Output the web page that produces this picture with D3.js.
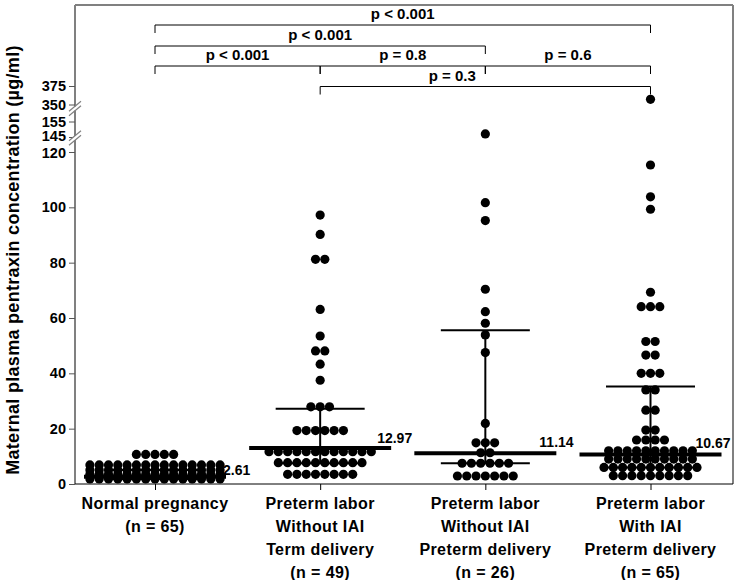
<!DOCTYPE html>
<html><head><meta charset="utf-8">
<script src="https://cdn.jsdelivr.net/npm/d3@7"></script>
<style>
body{margin:0;background:#fff;}
svg{display:block;}
text{font-family:"Liberation Sans",Arial,sans-serif;fill:#000;}
</style>
</head><body>
<svg id="chart" width="738" height="580"></svg>
<script>
// ---------------- DATA ----------------
const groups = ["Normal pregnancy", "PL no IAI term", "PL no IAI preterm", "PL IAI preterm"];
const groupLabelLines = [
  ["Normal pregnancy", "(n = 65)"],
  ["Preterm labor", "Without IAI", "Term delivery", "(n = 49)"],
  ["Preterm labor", "Without IAI", "Preterm delivery", "(n = 26)"],
  ["Preterm labor", "With IAI", "Preterm delivery", "(n = 65)"]
];
const normalValues = [
  10.7, 10.7, 10.7, 10.7, 10.7,
  6.9, 6.9, 6.9, 6.9, 6.9, 6.9, 6.9, 6.9, 6.9, 6.9, 6.9, 6.9, 6.9, 6.9, 6.9,
  5.1, 5.1, 5.1, 5.1, 5.1, 5.1, 5.1, 5.1, 5.1, 5.1, 5.1, 5.1, 5.1, 5.1, 5.1,
  3.5, 3.5, 3.5, 3.5, 3.5, 3.5, 3.5, 3.5, 3.5, 3.5, 3.5, 3.5, 3.5, 3.5, 3.5,
  1.8, 1.8, 1.8, 1.8, 1.8, 1.8, 1.8, 1.8, 1.8, 1.8, 1.8, 1.8, 1.8, 1.8, 1.8
];
const termValues = [
  97.2, 90.2, 81.2, 81.2, 63.1, 53.5, 48.1, 48.1, 43.3, 37.5,
  27.9, 27.9, 27.9,
  19.3, 19.3, 19.3, 19.3, 19.3, 19.3,
  11.7, 11.7, 11.7, 11.7, 11.7, 11.7, 11.7, 11.7, 11.7, 11.7, 11.7, 11.7,
  7.7, 7.7, 7.7, 7.7, 7.7, 7.7, 7.7, 7.7, 7.7, 7.7,
  3.5, 3.5, 3.5, 3.5, 3.5, 3.5, 3.5, 3.5
];
const pretermNoIaiValues = [
  147, 101.7, 95.2, 70.4, 62.3, 58.1, 53.9, 47.5, 21.9,
  14.9, 14.9, 14.9,
  11.3, 11.3,
  7.5, 7.5, 7.5, 7.5, 7.5, 7.5,
  2.9, 2.9, 2.9, 2.9, 2.9, 2.9, 2.9
];
const iaiValues = [
  357, 115.3, 103.8, 99.3, 69.3,
  64.1, 64.1, 64.1,
  51.5, 51.5, 46.6, 46.6,
  40, 40, 40, 34, 34, 26.7, 26.7, 19.5, 19.5,
  15.9, 15.9, 15.9, 15.9,
  12, 12, 12, 12, 12, 12, 12, 12, 12, 12,
  9, 9, 9, 9, 9, 9, 9, 9, 9, 9,
  6, 6, 6, 6, 6, 6, 6, 6, 6, 6, 6,
  3, 3, 3, 3, 3, 3, 3, 3, 3
];
const groupValues = [normalValues, termValues, pretermNoIaiValues, iaiValues];
const medians = [2.61, 12.97, 11.14, 10.67];
const medianLabels = ["2.61", "12.97", "11.14", "10.67"];
const whiskerLow = [1.8, 7.5, 7.5, 6];
const whiskerHigh = [5.1, 27.2, 55.6, 35.2];
const yTickValues = [0, 20, 40, 60, 80, 100, 120, 145, 155, 350, 375];
const yDomainKnots = [0, 120, 145, 155, 350, 375];
const comparisons = [
  {a: 0, b: 3, level: 0, label: "p < 0.001"},
  {a: 0, b: 2, level: 1, label: "p < 0.001"},
  {a: 0, b: 1, level: 2, label: "p < 0.001"},
  {a: 1, b: 2, level: 2, label: "p = 0.8"},
  {a: 2, b: 3, level: 2, label: "p = 0.6"},
  {a: 1, b: 3, level: 3, label: "p = 0.3"}
];
const yTitle = "Maternal plasma pentraxin concentration (\u00b5g/ml)";

// ---------------- LAYOUT ----------------
const svg = d3.select("#chart");
const plotLeft = 75, plotRight = 733, plotTop = 5, plotBottom = 484;
const x = d3.scalePoint().domain(groups).range([155, 650.5]);
const y = d3.scaleLinear().domain(yDomainKnots).range([484, 152, 137, 121.5, 104.5, 86]);
const dotR = 4.6, dotStep = 9.3;
const gray = "#808080";

// frame
svg.append("line").attr("x1", plotLeft).attr("x2", plotRight).attr("y1", plotTop).attr("y2", plotTop)
  .attr("stroke", gray).attr("stroke-width", 2);
svg.append("line").attr("x1", plotRight).attr("x2", plotRight).attr("y1", plotTop).attr("y2", plotBottom)
  .attr("stroke", gray).attr("stroke-width", 2);

// y axis
const yAxis = d3.axisLeft(y).tickValues(yTickValues).tickSize(6).tickPadding(3).tickFormat(d3.format("d"));
const gy = svg.append("g").attr("transform", `translate(${plotLeft},0)`).call(yAxis);
gy.select(".domain").attr("stroke", gray).attr("stroke-width", 2).attr("d", `M0,${plotTop}V${plotBottom}`);
gy.selectAll(".tick line").attr("stroke", "#555");
gy.selectAll(".tick text").attr("font-size", 14.5).attr("font-weight", "bold")
  .attr("font-family", '"Liberation Sans",Arial,sans-serif').attr("fill", "#000")
  .attr("dy", d => d === 145 ? "0.25em" : d === 120 ? "0.4em" : "0.32em");

// axis breaks
[y(145) + 1, y(350) + 4].forEach(cy => {
  svg.append("rect").attr("x", plotLeft - 2).attr("y", cy - 2).attr("width", 4).attr("height", 4).attr("fill", "#fff");
  [-2.2, 2.2].forEach(off => {
    svg.append("line").attr("x1", plotLeft - 6).attr("y1", cy + off + 5).attr("x2", plotLeft + 6).attr("y2", cy + off - 5)
      .attr("stroke", gray).attr("stroke-width", 1.2);
  });
});

// x axis
const xAxis = d3.axisBottom(x).tickSize(6).tickFormat("");
const gx = svg.append("g").attr("transform", `translate(0,${plotBottom})`).call(xAxis);
gx.select(".domain").attr("stroke", "#000").attr("stroke-width", 1).attr("d", `M${plotLeft},0H${plotRight}`);
gx.selectAll(".tick line").attr("stroke", "#000");

// x labels
groups.forEach((g, i) => {
  const t = svg.append("text").attr("x", x(g)).attr("y", 509).attr("text-anchor", "middle")
    .attr("font-size", 16).attr("font-weight", "bold").attr("letter-spacing", 0.4);
  groupLabelLines[i].forEach((line, j) => {
    t.append("tspan").attr("x", x(g)).attr("dy", j === 0 ? 0 : 23).text(line);
  });
});

// y title
svg.append("text").attr("transform", "translate(19,260) rotate(-90)").attr("text-anchor", "middle")
  .attr("font-size", 18).attr("font-weight", "bold").attr("letter-spacing", 0.3).text(yTitle);

// dots
function rowsOf(values) {
  const sorted = values.slice().sort((a, b) => b - a);
  const out = [];
  sorted.forEach(v => {
    const py = y(v);
    const last = out[out.length - 1];
    if (last && Math.abs(last.py - py) < 2) last.items.push(v);
    else out.push({py, items: [v]});
  });
  return out;
}
groups.forEach((g, gi) => {
  const cx = x(g);
  const pts = [];
  rowsOf(groupValues[gi]).forEach(row => {
    const n = row.items.length;
    row.items.forEach((v, i) => pts.push({cx: cx + (i - (n - 1) / 2) * dotStep, cy: y(v)}));
  });
  svg.append("g").selectAll("circle").data(pts).join("circle")
    .attr("cx", d => d.cx).attr("cy", d => d.cy).attr("r", dotR).attr("fill", "#000");
});

// whiskers and medians
groups.forEach((g, gi) => {
  const cx = x(g);
  const gw = svg.append("g").attr("stroke", "#000");
  gw.append("line").attr("x1", cx).attr("x2", cx).attr("y1", y(whiskerLow[gi])).attr("y2", y(whiskerHigh[gi])).attr("stroke-width", 2);
  [whiskerLow[gi], whiskerHigh[gi]].forEach(v => {
    gw.append("line").attr("x1", cx - 44.5).attr("x2", cx + 44.5).attr("y1", y(v)).attr("y2", y(v)).attr("stroke-width", 2);
  });
  gw.append("line").attr("x1", cx - 71).attr("x2", cx + 71).attr("y1", y(medians[gi])).attr("y2", y(medians[gi])).attr("stroke-width", 4);
});
const medLabelDx = [-3, -14, -17, -26];
const medLabelDy = [-2, -5, -6, -6];
groups.forEach((g, gi) => {
  svg.append("text").attr("x", x(g) + 71 + medLabelDx[gi]).attr("y", y(medians[gi]) + medLabelDy[gi])
    .attr("font-size", 14).attr("font-weight", "bold").text(medianLabels[gi]);
});

// comparison brackets
const levelY = [25, 46, 66, 86.5];
const tickLen = 8;
comparisons.forEach(c => {
  const x1 = x(groups[c.a]), x2 = x(groups[c.b]), ly = levelY[c.level];
  svg.append("path").attr("d", `M${x1},${ly + tickLen}V${ly}H${x2}V${ly + tickLen}`)
    .attr("fill", "none").attr("stroke", "#000").attr("stroke-width", 1);
  const lx = c.level === 3 ? (x1 + x2) / 2 - 33 : (x1 + x2) / 2;
  svg.append("text").attr("x", lx).attr("y", ly - 6).attr("text-anchor", "middle")
    .attr("font-size", 15).attr("font-weight", "bold").text(c.label);
});
</script>
</body></html>
